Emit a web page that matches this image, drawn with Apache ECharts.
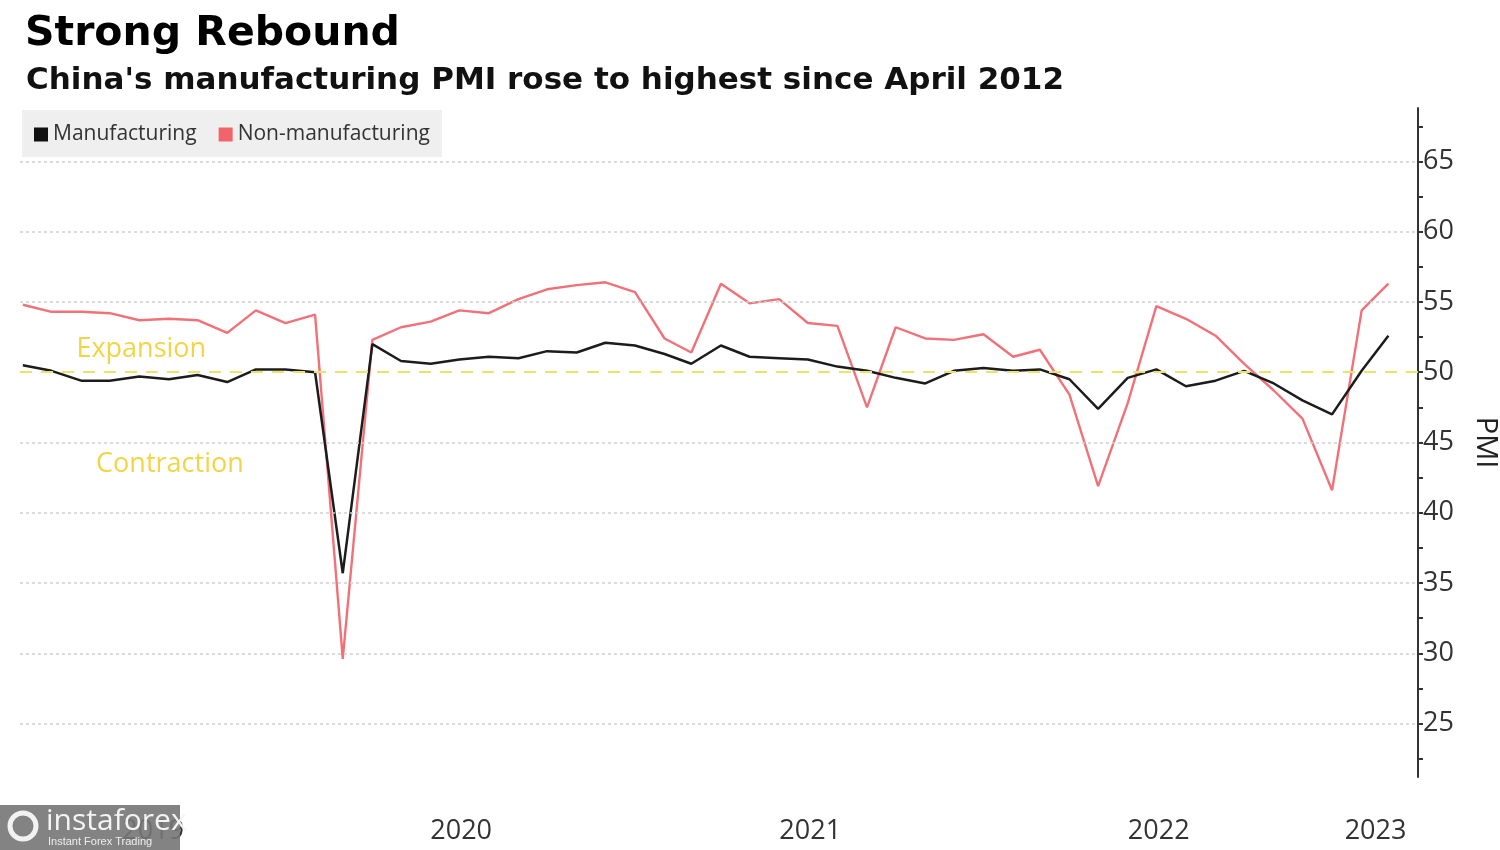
<!DOCTYPE html>
<html>
<head>
<meta charset="utf-8">
<script src="https://cdn.jsdelivr.net/npm/echarts@6/dist/echarts.min.js"></script>
<style>
html,body{margin:0;padding:0;background:#fff;}
#chart{width:1500px;height:850px;}
</style>
</head>
<body>
<div id="chart"></div>
<script>
// ---- data ----
const months = [
  '2019-03','2019-04','2019-05','2019-06','2019-07','2019-08','2019-09','2019-10','2019-11','2019-12',
  '2020-01','2020-02','2020-03','2020-04','2020-05','2020-06','2020-07','2020-08','2020-09','2020-10','2020-11','2020-12',
  '2021-01','2021-02','2021-03','2021-04','2021-05','2021-06','2021-07','2021-08','2021-09','2021-10','2021-11','2021-12',
  '2022-01','2022-02','2022-03','2022-04','2022-05','2022-06','2022-07','2022-08','2022-09','2022-10','2022-11','2022-12',
  '2023-01','2023-02'
];
const manufacturing = [
  50.5,50.1,49.4,49.4,49.7,49.5,49.8,49.3,50.2,50.2,
  50.0,35.7,52.0,50.8,50.6,50.9,51.1,51.0,51.5,51.4,52.1,51.9,
  51.3,50.6,51.9,51.1,51.0,50.9,50.4,50.1,49.6,49.2,50.1,50.3,
  50.1,50.2,49.5,47.4,49.6,50.2,49.0,49.4,50.1,49.2,48.0,47.0,
  50.1,52.6
];
const nonManufacturing = [
  54.8,54.3,54.3,54.2,53.7,53.8,53.7,52.8,54.4,53.5,
  54.1,29.6,52.3,53.2,53.6,54.4,54.2,55.2,55.9,56.2,56.4,55.7,
  52.4,51.4,56.3,54.9,55.2,53.5,53.3,47.5,53.2,52.4,52.3,52.7,
  51.1,51.6,48.4,41.9,47.8,54.7,53.8,52.6,50.6,48.7,46.7,41.6,
  54.4,56.3
];
const yearLabels = ['2019','2020','2021','2022','2023'];
const yTickLabels = [25,30,35,40,45,50,55,60,65];
const yMinorTicks = [22.5,25,27.5,30,32.5,35,37.5,40,42.5,45,47.5,50,52.5,55,57.5,60,62.5,65,67.5];
const threshold = 50;

// ---- helpers ----
function monthEnd(ym){
  const [y,m] = ym.split('-').map(Number);
  const d = new Date(Date.UTC(y, m, 0)).getUTCDate();
  return Date.UTC(y, m-1, d);
}
const xMin = Date.UTC(2019,2,28);
const xMax = Date.UTC(2023,2,31);
const yearMids = yearLabels.map(y => {
  const yy = Number(y);
  const s = Math.max(xMin, Date.UTC(yy,0,1));
  const e = Math.min(xMax, Date.UTC(yy+1,0,1));
  return (s+e)/2;
});
const mfgData = months.map((m,i)=>[monthEnd(m), manufacturing[i]]);
const nonData = months.map((m,i)=>[monthEnd(m), nonManufacturing[i]]);

const labelFont = '"Open Sans", "DejaVu Sans", sans-serif';

const chart = echarts.init(document.getElementById('chart'), null, {renderer:'canvas'});
chart.setOption({
  animation:false,
  backgroundColor:'#ffffff',
  title:[
    {text:'Strong Rebound', left:20, top:9,
     textStyle:{fontFamily:'DejaVu Sans', fontWeight:'bold', fontSize:41, color:'#000'}},
    {text:"China's manufacturing PMI rose to highest since April 2012", left:21, top:60,
     textStyle:{fontFamily:'DejaVu Sans', fontWeight:'bold', fontSize:31, color:'#111'}}
  ],
  legend:{
    data:['Manufacturing','Non-manufacturing'],
    left:22, top:110,
    backgroundColor:'#efefef',
    padding:[14,12,12,12],
    itemWidth:14, itemHeight:14, itemGap:22,
    icon:'rect',
    textStyle:{fontFamily:labelFont, fontSize:21, color:'#333'}
  },
  grid:{left:20, right:82, top:108, bottom:73, containLabel:false, outerBoundsMode:'none'},
  xAxis:{
    type:'value', min:xMin, max:xMax,
    axisLine:{show:false}, axisTick:{show:false}, splitLine:{show:false},
    axisLabel:{
      customValues:yearMids,
      formatter:(v)=>String(new Date(v).getUTCFullYear()),
      fontFamily:labelFont, fontSize:27, color:'#333', margin:41
    }
  },
  yAxis:{
    type:'value', position:'right', min:21.2, max:68.8,
    name:'PMI', nameLocation:'middle', nameRotate:-90, nameGap:53,
    nameTextStyle:{fontFamily:labelFont, fontSize:29, color:'#222'},
    axisLine:{show:true, lineStyle:{color:'#333', width:2}},
    axisTick:{show:true, customValues:yMinorTicks, length:5, lineStyle:{color:'#333', width:2}},
    axisLabel:{customValues:yTickLabels, fontFamily:labelFont, fontSize:27, color:'#333', margin:5},
    splitLine:{show:false}
  },
  series:[
    {
      name:'ref', type:'line', data:[], z:1, silent:true,
      markLine:{
        silent:true, symbol:'none', animation:false,
        label:{show:false},
        data: yTickLabels.filter(v=>v!==threshold).map(v=>({yAxis:v, lineStyle:{type:[3,3], color:'#d0d0d0', width:1.5}}))
          .concat([{yAxis:threshold, lineStyle:{type:[12,9], color:'#ebe36a', width:2}}])
      },
      markPoint:{
        silent:true, symbol:'circle', symbolSize:1,
        itemStyle:{color:'rgba(0,0,0,0)'},
        label:{show:true, position:'inside', fontFamily:labelFont, fontSize:27, color:'#f2d444'},
        data:[
          {name:'Expansion', coord:[Date.UTC(2019,7,2), 51.6], value:1, label:{formatter:'Expansion'}},
          {name:'Contraction', coord:[Date.UTC(2019,8,1), 43.45], value:1, label:{formatter:'Contraction'}}
        ]
      }
    },
    {
      name:'Manufacturing', type:'line', data:mfgData, z:4,
      showSymbol:false, symbol:'none',
      itemStyle:{color:'#111'},
      lineStyle:{color:'#1c1c1c', width:2.5}
    },
    {
      name:'Non-manufacturing', type:'line', data:nonData, z:3,
      showSymbol:false, symbol:'none',
      itemStyle:{color:'#f0646a'},
      lineStyle:{color:'#f07278', width:2.4}
    }
  ],
  graphic:[
    {type:'rect', left:0, top:805, shape:{width:180, height:45}, style:{fill:'rgba(118,118,118,0.9)'}, z:100},
    {type:'circle', shape:{cx:23, cy:826, r:13}, style:{fill:'none', stroke:'#f2f2f2', lineWidth:5}, z:101},
    {type:'text', left:46, top:806, style:{text:'instaforex', fontFamily:labelFont, fontSize:30, fill:'#f4f4f4'}, z:101},
    {type:'text', left:48, top:836, style:{text:'Instant Forex Trading', fontFamily:'Liberation Sans, sans-serif', fontSize:11, fill:'#eeeeee'}, z:101}
  ]
});
</script>
</body>
</html>
